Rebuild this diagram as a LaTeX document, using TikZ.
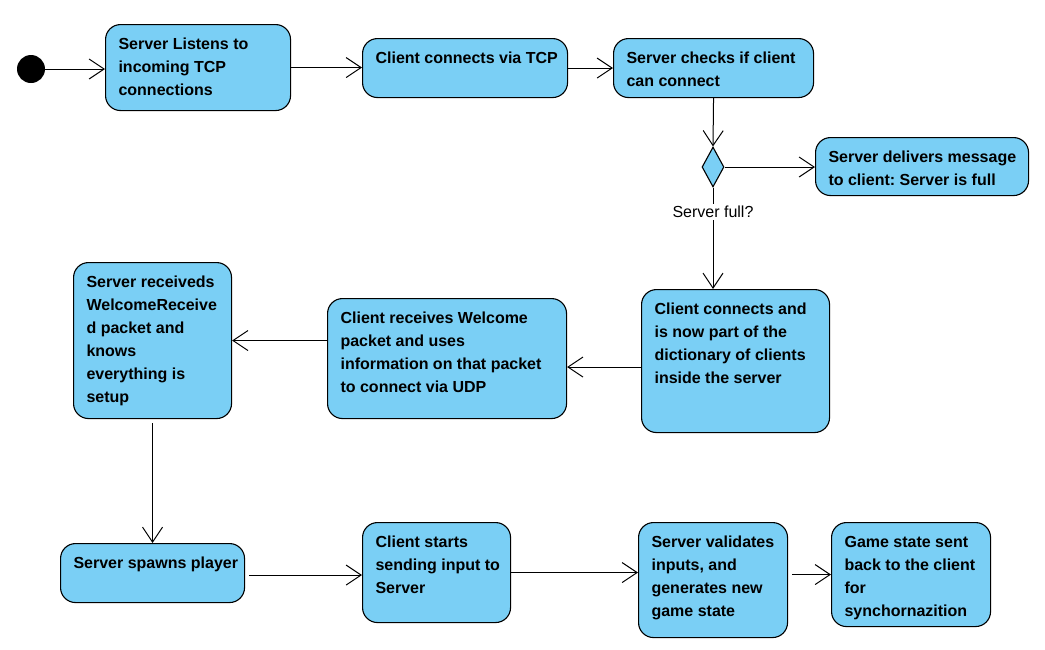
\documentclass[tikz,border=0pt]{standalone}
\usepackage{fontspec}
\setmainfont{Liberation Sans}
\usepackage{xcolor}
\usetikzlibrary{arrows.meta,shapes.geometric}

\definecolor{actblue}{RGB}{122,207,245}
\frenchspacing
% box text: width, height, lines
\newcommand{\acttext}[3]{\makebox[#1][l]{\parbox[c][#2][t]{10cm}{\strut #3}}}

\begin{document}
\begin{tikzpicture}[
  x=1pt, y=-1pt,
  act/.style={draw, rounded corners=15pt, fill=actblue, line width=1.1pt, anchor=north west,
    inner xsep=13pt, inner ysep=9pt, font=\bfseries\fontsize{16}{23}\selectfont},
  decision/.style={draw, diamond, fill=actblue, line width=1.1pt, inner sep=0pt, minimum width=22pt, minimum height=40pt},
  startdot/.style={circle, fill=black, minimum size=28pt, inner sep=0pt},
  flow/.style={-{Straight Barb[length=15pt, width=20pt]}, line width=1pt},
  guard/.style={fill=white, inner sep=2pt, font=\fontsize{16}{19}\selectfont}
]
  \useasboundingbox (0,0) rectangle (1045,649);

  \node[startdot] (start) at (31,69) {};
  \node[act] (listen) at (105,24) {\acttext{159pt}{68pt}{Server Listens to\\incoming TCP\\connections}};
  \node[act] (tcp) at (362,38) {\acttext{179pt}{41pt}{Client connects via TCP}};
  \node[act] (check) at (613,38) {\acttext{174pt}{41pt}{Server checks if client\\can connect}};
  \node[decision] (full) at (713,167) {};
  \node[act] (deliver) at (815,137) {\acttext{187pt}{40pt}{Server delivers message\\to client: Server is full}};

  \node[act] (joined) at (641,289) {\acttext{162pt}{125pt}{Client connects and\\is now part of the\\dictionary of clients\\inside the server}};
  \node[act] (welcome) at (327,298) {\acttext{213pt}{102pt}{Client receives Welcome\\packet and uses\\information on that packet\\to connect via UDP}};
  \node[act] (ready) at (73,262) {\acttext{132pt}{138pt}{Server receiveds\\WelcomeReceive\\d packet and\\knows\\everything is\\setup}};

  \node[act] (spawn) at (60,543) {\acttext{158pt}{41pt}{Server spawns player}};
  \node[act] (input) at (362,522) {\acttext{122pt}{82pt}{Client starts\\sending input to\\Server}};
  \node[act] (validate) at (638,522) {\acttext{123pt}{97pt}{Server validates\\inputs, and\\generates new\\game state}};
  \node[act] (sync) at (831,522) {\acttext{133pt}{86pt}{Game state sent\\back to the client\\for\\synchornazition}};

  \draw[flow] (start.east) -- (start.east -| listen.west);
  \draw[flow] (listen.east) -- (listen.east -| tcp.west);
  \draw[flow] (tcp.east) -- (tcp.east -| check.west);
  \draw[flow] (check.south) -- (full.north);
  \draw[flow] (full.east) -- (full.east -| deliver.west);
  \draw[flow] (full.south) -- node[guard, pos=0.24] {Server full?} (full.south |- joined.north);
  \draw[flow] ([yshift=-6pt]joined.west) -- ([yshift=-6pt]joined.west -| welcome.east);
  \draw[flow] (welcome.west |- ready.east) -- (ready.east);
  \draw[flow] ([yshift=-4pt]ready.south) -- (spawn.north);
  \draw[flow] ([xshift=4pt, yshift=-2pt]spawn.east) -- ([yshift=-2pt]spawn.east -| input.west);
  \draw[flow] (input.east) -- (input.east -| validate.west);
  \draw[flow] ([xshift=4pt]validate.east |- sync.west) -- (sync.west);
\end{tikzpicture}
\end{document}
